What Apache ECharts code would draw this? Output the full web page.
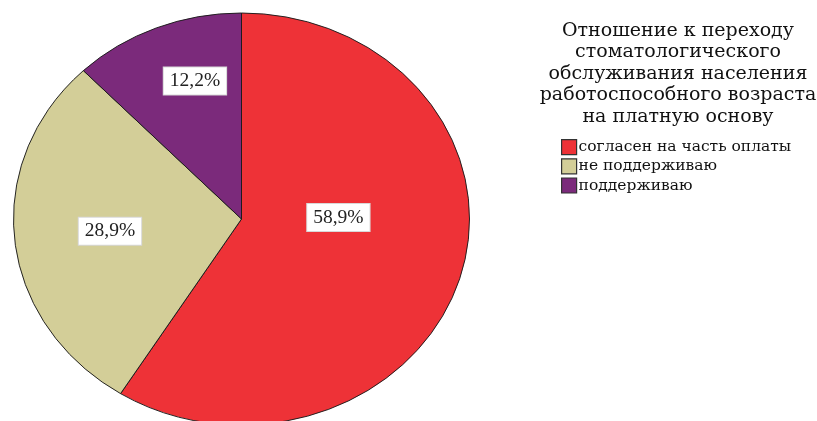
<!DOCTYPE html>
<html>
<head>
<meta charset="utf-8">
<script src="https://cdn.jsdelivr.net/npm/echarts@6/dist/echarts.min.js"></script>
<style>
  html, body { margin: 0; padding: 0; background: #fff; }
  #chart { width: 817px; height: 421px; }
</style>
</head>
<body>
<div id="chart"></div>
<script>
// Categories and their shares (%)
const categories = ['согласен на часть оплаты', 'не поддерживаю', 'поддерживаю'];
const shares = [58.9, 28.9, 12.2];
const sliceColors = ['#EE3237', '#D3CE98', '#7B2A7B'];
const titleLines = [
  'Отношение к переходу',
  'стоматологического',
  'обслуживания населения',
  'работоспособного возраста',
  'на платную основу'
];

// Elliptical pie geometry
const CX = 241.5, CY = 219, RX = 228, RY = 206;
// Label placement within each slice: fraction of radius and angular nudge (deg)
const labelRadius = [0.425, 0.58, 0.70];
const labelNudge = [-17, 0, 5];

const total = shares.reduce((a, b) => a + b, 0);
const startOf = i => shares.slice(0, i).reduce((a, b) => a + b, 0);

function fmt(v) { return v.toFixed(1).replace('.', ',') + '%'; }

function makeRenderer(idx) {
  return function (params, api) {
    const value = api.value(0);
    const a0 = -Math.PI / 2 + (startOf(idx) / total) * Math.PI * 2;
    const a1 = a0 + (value / total) * Math.PI * 2;
    const mid = (a0 + a1) / 2 + labelNudge[idx] * Math.PI / 180;
    const lr = labelRadius[idx];
    return {
      type: 'group',
      children: [
        {
          type: 'group',
          x: CX, y: CY,
          scaleY: RY / RX,
          children: [{
            type: 'sector',
            shape: { cx: 0, cy: 0, r0: 0, r: RX, startAngle: a0, endAngle: a1, clockwise: true },
            style: { fill: api.visual('color'), stroke: '#1a1a1a', lineWidth: 1, strokeNoScale: true }
          }]
        },
        {
          type: 'text',
          x: CX + Math.cos(mid) * RX * lr,
          y: CY + Math.sin(mid) * RY * lr,
          style: {
            text: fmt(value),
            fontFamily: 'Liberation Serif',
            fontSize: 19.5,
            fill: '#222',
            align: 'center',
            verticalAlign: 'middle',
            backgroundColor: '#fff',
            borderColor: '#d8d8d8',
            borderWidth: 1,
            padding: [4, 6, 3, 6]
          },
          z2: 10
        }
      ]
    };
  };
}

const chart = echarts.init(document.getElementById('chart'), null, { renderer: 'canvas' });
chart.setOption({
  animation: false,
  backgroundColor: '#fff',
  color: sliceColors,
  title: {
    text: titleLines.join('\n'),
    left: 673,
    top: 15,
    textAlign: 'center',
    textStyle: {
      fontFamily: 'DejaVu Serif',
      fontSize: 19,
      fontWeight: 'normal',
      lineHeight: 21.5,
      color: '#111'
    }
  },
  legend: {
    orient: 'vertical',
    left: 556,
    top: 134,
    itemWidth: 15,
    itemHeight: 15,
    itemGap: 3,
    icon: 'rect',
    data: categories,
    itemStyle: { borderColor: '#333', borderWidth: 1.2 },
    textStyle: { fontFamily: 'DejaVu Serif', fontSize: 15.5, color: '#111', padding: [0, 0, 0, -3] }
  },
  series: categories.map((name, i) => ({
    type: 'custom',
    name: name,
    coordinateSystem: 'none',
    renderItem: makeRenderer(i),
    data: [[shares[i]]],
    itemStyle: { color: sliceColors[i] },
    silent: true
  }))
});
</script>
</body>
</html>
